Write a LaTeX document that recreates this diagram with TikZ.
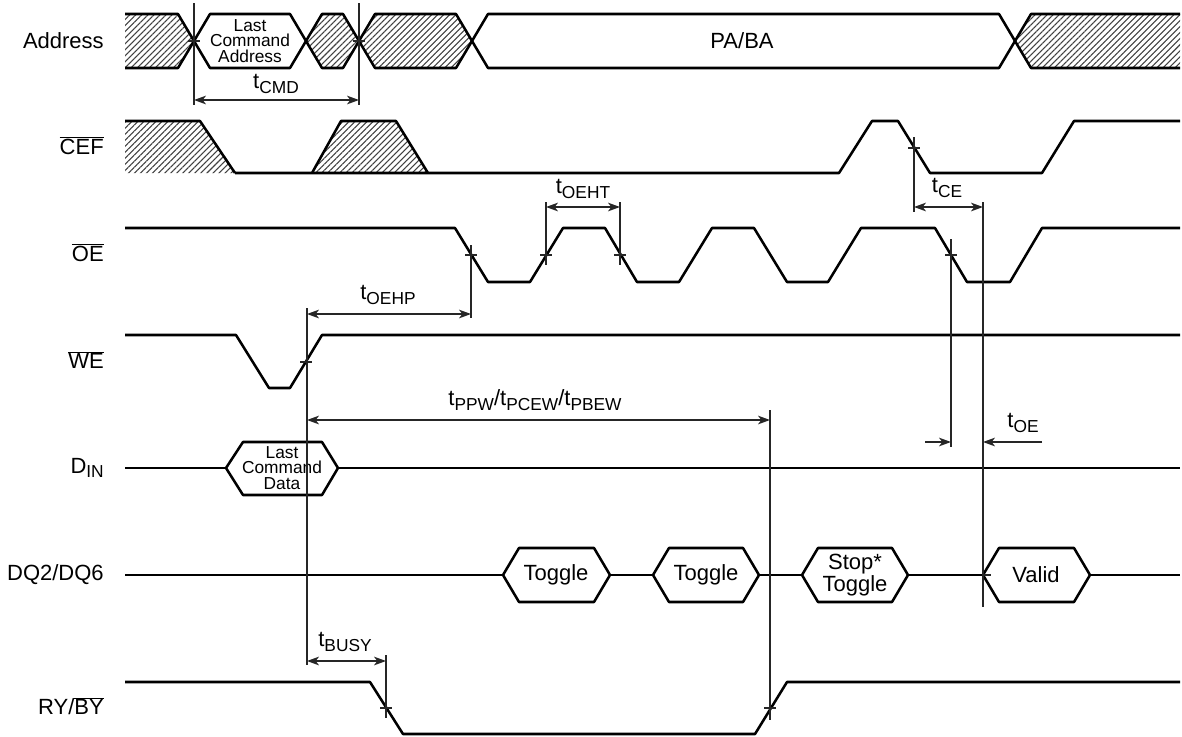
\documentclass[tikz,border=0pt]{standalone}
\usepackage{fontspec}
\setmainfont{Liberation Sans}
\usetikzlibrary{arrows.meta,patterns.meta}
\newcommand{\tsb}[1]{t\raisebox{-0.4ex}{\fontsize{13}{13}\selectfont #1}}
\newcommand{\ovl}[1]{$\overline{\mbox{#1}}$}
\newcommand{\hexat}[3]{(#1,#3) -- (#1+16,#3-27) -- (#2-16,#3-27) -- (#2,#3) -- (#2-16,#3+27) -- (#1+16,#3+27) -- cycle}
\newcommand{\tk}[2]{\draw[tline] (#1-6,#2) -- (#1+6,#2);}
\tikzset{
  sig/.style={line width=1.9pt, line join=round},
  tline/.style={line width=0.9pt, draw=black!85},
  hatch/.style={pattern={Lines[angle=45,distance=3.2pt,line width=0.8pt]}, pattern color=black!75},
  dimarrow/.style={line width=0.9pt, draw=black!85, {Stealth[length=9pt,width=6.5pt,inset=2.5pt]}-{Stealth[length=9pt,width=6.5pt,inset=2.5pt]}},
  onearrow/.style={line width=0.9pt, draw=black!85, -{Stealth[length=9pt,width=6.5pt,inset=2.5pt]}},
  lbl/.style={font=\fontsize{16.5}{19}\selectfont, anchor=east, inner sep=0pt},
  tl/.style={font=\fontsize{16.5}{19}\selectfont, inner sep=0pt},
  hext/.style={font=\fontsize{16.5}{17}\selectfont, inner sep=0pt, align=center},
  smallhext/.style={font=\fontsize{13}{11.5}\selectfont, inner sep=0pt, align=center}
}
\begin{document}
\begin{tikzpicture}[x=0.75pt,y=-0.75pt]
\useasboundingbox (0,0) rectangle (1182,736);

% ---------- signal names ----------
\node[lbl] (la) at (104,41) {Address};
\node[lbl] (lc) at (104,146) {\ovl{CEF}};
\node[lbl] (lo) at (104,253) {\ovl{OE}};
\node[lbl] (lw) at (104,360) {\ovl{WE}};
\node[lbl] (ld) at (104,468) {D\raisebox{-0.4ex}{\fontsize{13}{13}\selectfont IN}};
\node[lbl] (lq) at (104,575) {DQ2/DQ6};
\node[lbl] (lr) at (104,706) {RY/\ovl{BY}};

% ---------- Address ----------
\fill[hatch] (125,14) -- (178,14) -- (194,41) -- (178,68) -- (125,68) -- cycle;
\draw[sig] (125,14) -- (178,14) -- (194,41) -- (178,68) -- (125,68);
\draw[sig] \hexat{194}{306}{41};
\draw[sig,hatch] \hexat{306}{359}{41};
\draw[sig,hatch] \hexat{359}{472}{41};
\draw[sig] \hexat{472}{1015}{41};
\fill[hatch] (1180,14) -- (1031,14) -- (1015,41) -- (1031,68) -- (1180,68) -- cycle;
\draw[sig] (1180,14) -- (1031,14) -- (1015,41) -- (1031,68) -- (1180,68);
\node[smallhext] (lca) at (250,41) {Last\\Command\\Address};
\node[hext] (paba) at (742,41) {PA/BA};

% ---------- CEF ----------
\fill[hatch] (125,121) -- (200,121) -- (235,173) -- (125,173) -- cycle;
\draw[sig] (125,121) -- (200,121) -- (235,173);
\fill[hatch] (312,173) -- (341,121) -- (396,121) -- (428,173) -- cycle;
\draw[sig] (312,173) -- (341,121) -- (396,121) -- (428,173);
\draw[sig] (235,173) -- (839,173) -- (872,121) -- (898,121) -- (930,173) -- (1042,173) -- (1074,121) -- (1180,121);

% ---------- OE ----------
\draw[sig] (125,228) -- (455,228) -- (488,282) -- (530,282) -- (563,228) -- (605,228) -- (637,282) -- (679,282) -- (712,228) -- (754,228) -- (787,282) -- (828,282) -- (861,228) -- (935,228) -- (967,282) -- (1010,282) -- (1042,228) -- (1180,228);

% ---------- WE ----------
\draw[sig] (125,335) -- (236,335) -- (269,388) -- (290,388) -- (322,335) -- (1180,335);

% ---------- DIN ----------
\draw[sig] (125,468) -- (226,468);
\draw[sig] (226,468) -- (243,442) -- (322,442) -- (338,468) -- (322,495) -- (243,495) -- cycle;
\draw[sig] (338,468) -- (1180,468);
\node[smallhext] (lcd) at (282,468) {Last\\Command\\Data};

% ---------- DQ2/DQ6 ----------
\draw[sig] (125,575) -- (503,575);
\draw[sig] \hexat{503}{610}{575};
\draw[sig] (610,575) -- (653,575);
\draw[sig] \hexat{653}{759}{575};
\draw[sig] (759,575) -- (802,575);
\draw[sig] \hexat{802}{908}{575};
\draw[sig] (908,575) -- (983,575);
\draw[sig] \hexat{983}{1090}{575};
\draw[sig] (1090,575) -- (1180,575);
\node[hext] (tg1) at (556,575) {Toggle};
\node[hext] (tg2) at (706,575) {Toggle};
\node[hext, font=\fontsize{16.5}{16.5}\selectfont] (stp) at (855,575) {Stop*\\Toggle};
\node[hext] (vld) at (1036,575) {Valid};

% ---------- RY/BY ----------
\draw[sig] (125,682) -- (370,682) -- (403,734) -- (755,734) -- (787,682) -- (1180,682);

% ---------- timing coordinates ----------
\coordinate (cmdA) at (194,100);  \coordinate (cmdB) at (359,100);
\coordinate (ehtA) at (546,207);  \coordinate (ehtB) at (620,207);
\coordinate (ceA)  at (914,207);  \coordinate (ceB)  at (983,207);
\coordinate (ehpA) at (307,314);  \coordinate (ehpB) at (471,314);
\coordinate (ppwA) at (307,420);  \coordinate (ppwB) at (770,420);
\coordinate (oeL)  at (925,442);  \coordinate (oeA)  at (951,442);
\coordinate (oeR)  at (1042,442); \coordinate (oeB)  at (983,442);
\coordinate (bsyA) at (307,661);  \coordinate (bsyB) at (386,661);

% ---------- timing verticals ----------
\draw[tline] (194,3) -- (194,105);
\draw[tline] (359,3) -- (359,105);
\draw[tline] (546,202) -- (546,265);
\draw[tline] (620,202) -- (620,265);
\draw[tline] (914,137) -- (914,212);
\draw[tline] (983,202) -- (983,607);
\draw[tline] (471,245) -- (471,318);
\draw[tline] (307,308) -- (307,665);
\draw[tline] (770,410) -- (770,720);
\draw[tline] (951,239) -- (951,447);
\draw[tline] (386,655) -- (386,718);

% ---------- crossing ticks ----------
\tk{194}{41} \tk{359}{41}
\tk{914}{148}
\tk{471}{255} \tk{546}{255} \tk{620}{255} \tk{951}{255}
\tk{306}{362}
\draw[tline] (983,575) -- (991,575);
\tk{386}{708} \tk{770}{708}

% ---------- dimension arrows ----------
\draw[dimarrow] (cmdA) -- (cmdB);
\draw[dimarrow] (ehtA) -- (ehtB);
\draw[dimarrow] (ceA) -- (ceB);
\draw[dimarrow] (ehpA) -- (ehpB);
\draw[dimarrow] (ppwA) -- (ppwB);
\draw[onearrow] (oeL) -- (oeA);
\draw[onearrow] (oeR) -- (oeB);
\draw[dimarrow] (bsyA) -- (bsyB);

% ---------- timing labels ----------
\node[tl] (tcmd) at (276,84) {\tsb{CMD}};
\node[tl] (teht) at (583,189) {\tsb{OEHT}};
\node[tl] (tce)  at (947,188) {\tsb{CE}};
\node[tl] (tehp) at (388,295) {\tsb{OEHP}};
\node[tl] (tppw) at (535,400) {\tsb{PPW}/\tsb{PCEW}/\tsb{PBEW}};
\node[tl] (toe)  at (1023,423) {\tsb{OE}};
\node[tl] (tbsy) at (345,642) {\tsb{BUSY}};
\end{tikzpicture}
\end{document}
